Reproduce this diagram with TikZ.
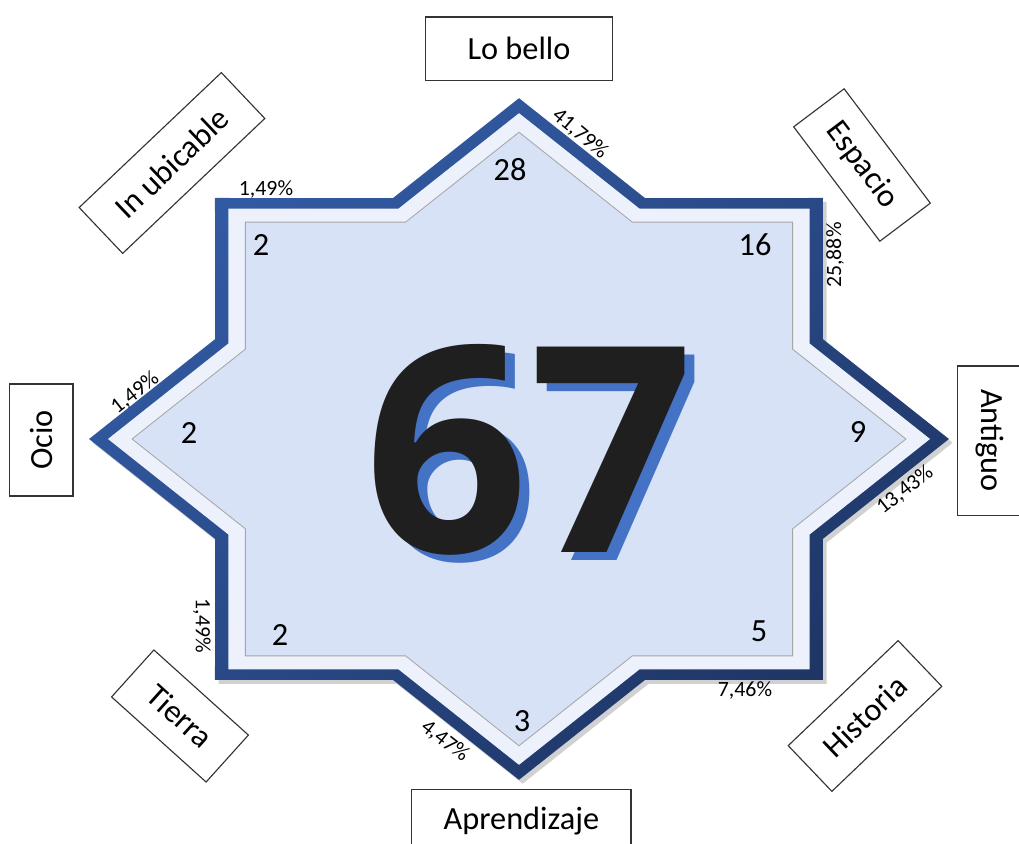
\documentclass[tikz,border=0pt]{standalone}
\usepackage{fontspec}
\setmainfont{Carlito}[BoldFont={Carlito Bold}, ItalicFont={Carlito Italic}]
\newfontfamily\totfont{Open Sans}
\usetikzlibrary{shadings}
\definecolor{rimlight}{RGB}{54,98,176}
\definecolor{rimdark}{RGB}{26,44,86}
\definecolor{bevel}{RGB}{236,241,251}
\definecolor{face}{RGB}{216,226,247}
\definecolor{echo}{RGB}{68,114,196}
\begin{document}
\begin{tikzpicture}[
  tag/.style={draw=black!80, line width=0.8pt, fill=white, rectangle, minimum height=1.58cm, inner sep=0pt, font=\fontsize{23}{27}\selectfont},
  pct/.style={inner sep=0pt, font=\fontsize{15.5}{18}\selectfont},
  cnt/.style={inner sep=0pt, font=\fontsize{23}{27}\selectfont},
  big/.style={inner sep=0pt, font=\totfont\fontsize{205}{210}\selectfont\bfseries}]
\useasboundingbox (-12.975,-10.125) rectangle (12.5,10.975);
\clip (-12.975,-10.125) rectangle (12.5,10.975);
% eight-pointed star: tips at r=1.4142, notches at r=1.0824
\begin{scope}[xscale=7.6, yscale=6.025]
\fill[black, opacity=0.18, shift={(0.012,-0.016)}] (90:1.4142) \foreach \a in {45,0,...,-225} {-- ({\a+22.5}:1.0824) -- (\a:1.4142)} -- (112.5:1.0824) -- cycle;
\shade[upper left=rimlight, upper right=rimlight!55!rimdark, lower left=rimlight!55!rimdark, lower right=rimdark] (90:1.4142) \foreach \a in {45,0,...,-225} {-- ({\a+22.5}:1.0824) -- (\a:1.4142)} -- (112.5:1.0824) -- cycle;
\fill[bevel] (90:1.352) \foreach \a in {45,0,...,-225} {-- ({\a+22.5}:1.035) -- (\a:1.352)} -- (112.5:1.035) -- cycle;
\filldraw[fill=face, draw=gray!70, line width=0.6pt] (90:1.2728) \foreach \a in {45,0,...,-225} {-- ({\a+22.5}:0.9742) -- (\a:1.2728)} -- (112.5:0.9742) -- cycle;
\end{scope}

% total
\node[big, text=echo] (tote) at (0.5,-0.475) {67};
\node[big, text=black!88] (tot) at (0.25,-0.275) {67};

% categories
\node[tag, minimum width=4.68cm] (lb) at (0,9.76) {Lo bello};
\node[tag, minimum width=4.9cm, rotate=43.5] (iu) at (-8.675,6.9) {In ubicable};
\node[tag, minimum width=3.58cm, rotate=-53] (es) at (8.575,6.85) {Espacio};
\node[tag, minimum width=3.73cm, rotate=-90] (an) at (11.76,-0.04) {Antiguo};
\node[tag, minimum width=2.8cm, rotate=90] (oc) at (-11.94,-0.025) {Ocio};
\node[tag, minimum width=3.18cm, rotate=-42] (ti) at (-8.475,-6.925) {Tierra};
\node[tag, minimum width=3.8cm, rotate=43.7] (hi) at (8.65,-6.925) {Historia};
\node[tag, minimum width=5.48cm] (ap) at (0.06,-9.56) {Aprendizaje};

% counts
\node[cnt] (nlb) at (-0.225,6.725) {28};
\node[cnt] (nes) at (5.9,4.85) {16};
\node[cnt] (nan) at (8.475,0.175) {9};
\node[cnt] (nhi) at (6.0,-4.8) {5};
\node[cnt] (nap) at (0.075,-7.05) {3};
\node[cnt] (nti) at (-5.975,-4.9) {2};
\node[cnt] (noc) at (-8.25,0.15) {2};
\node[cnt] (niu) at (-6.45,4.85) {2};

% shares
\node[pct, rotate=-40] (plb) at (1.525,7.625) {41,79\%};
\node[pct, rotate=90] (pes) at (7.9,4.6) {25,88\%};
\node[pct, rotate=38] (pan) at (9.65,-1.275) {13,43\%};
\node[pct] (phi) at (5.65,-6.275) {7,46\%};
\node[pct, rotate=-38] (pap) at (-1.85,-7.55) {4,47\%};
\node[pct, rotate=-90] (pti) at (-7.925,-4.675) {1,49\%};
\node[pct, rotate=38] (poc) at (-9.6,1.15) {1,49\%};
\node[pct] (piu) at (-6.325,6.25) {1,49\%};
\end{tikzpicture}
\end{document}
